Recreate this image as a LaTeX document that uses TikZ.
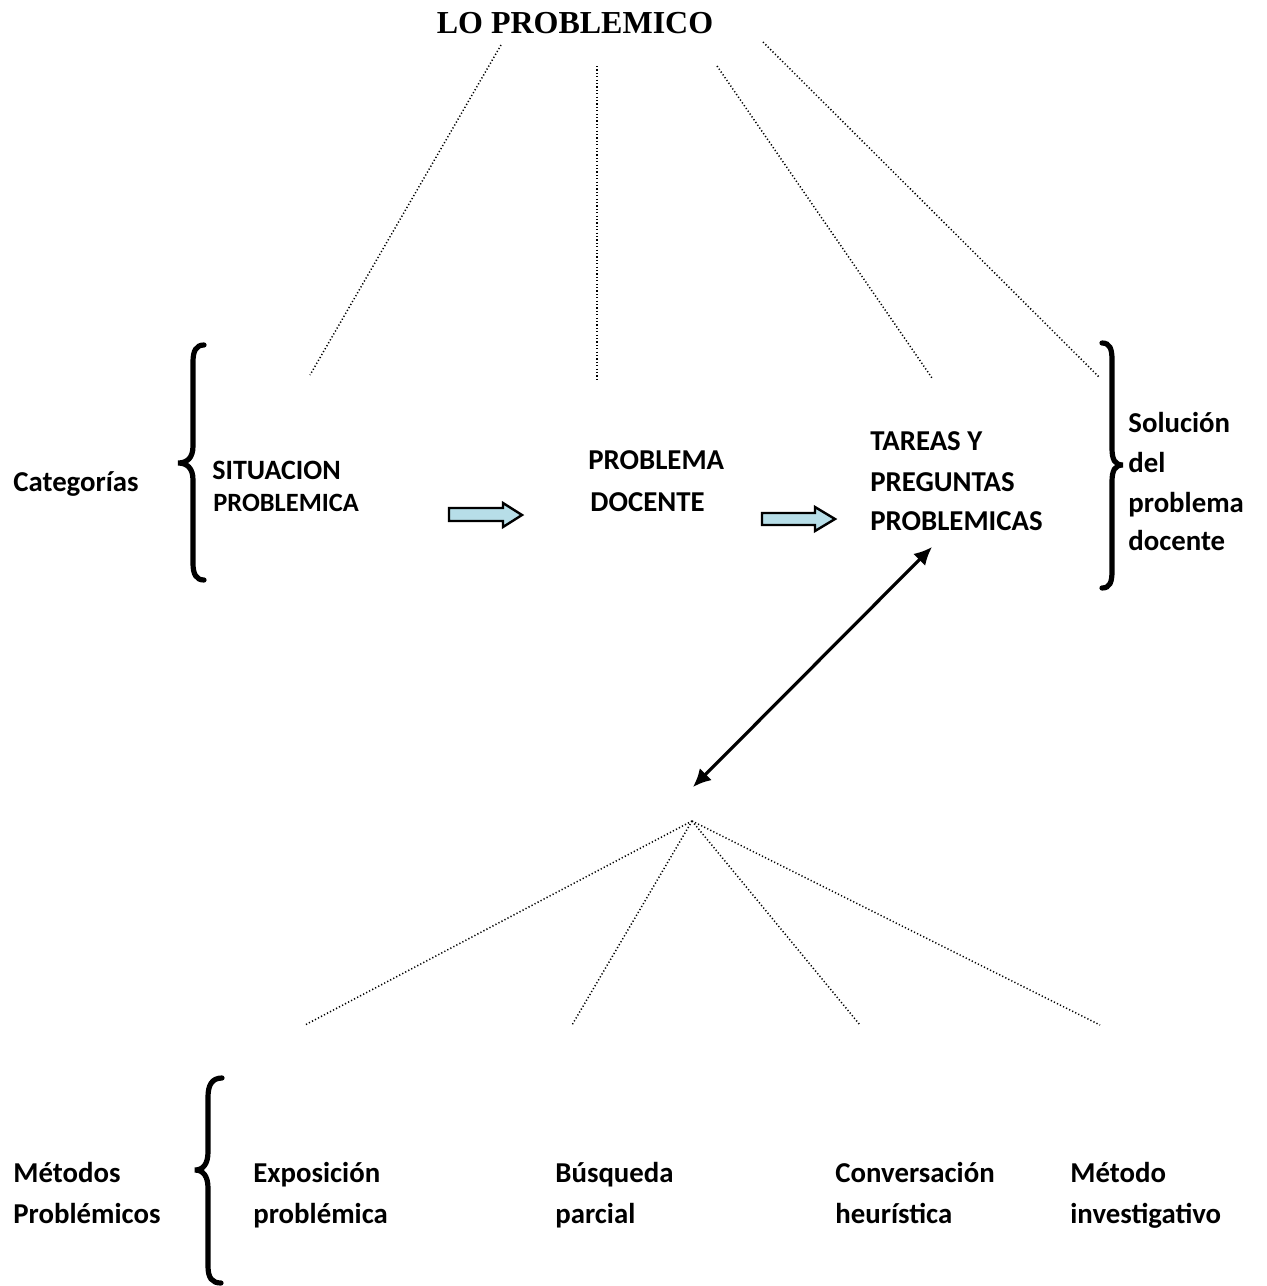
\documentclass[tikz,border=0pt]{standalone}
\usepackage{fontspec}
\setmainfont{Carlito}
\newfontfamily\titlefont{Liberation Serif}
\usepackage{tikz}
\usetikzlibrary{positioning,arrows.meta,calc}
\definecolor{arrowAqua}{HTML}{B7DEE8}

\begin{document}
\begin{tikzpicture}[
    x=0.5pt, y=-0.5pt,
    titlelbl/.style = {font=\titlefont\bfseries\fontsize{16}{19}\selectfont, anchor=base, inner sep=0pt},
    catlbl/.style   = {font=\bfseries\fontsize{14.4}{20.5}\selectfont, anchor=base west, inner sep=0pt, align=left},
    smalllbl/.style = {font=\bfseries\fontsize{13.2}{16}\selectfont, anchor=base west, inner sep=0pt, align=left},
    dotln/.style    = {line width=0.75pt, dash pattern=on 0.6pt off 1.1pt},
    blockarr/.style = {draw=black, line width=1.2pt, fill=arrowAqua, line join=miter},
    bracepath/.style= {line width=2.6pt, line cap=round},
    dblarr/.style   = {line width=1.6pt, {Latex[length=9pt,width=8.5pt]}-{Latex[length=9pt,width=8.5pt]}}
  ]
  \useasboundingbox (0,0) rectangle (1266,1286);

  %% title and its four branches
  \node[titlelbl] (title) at (575,33) {LO PROBLEMICO};
  \coordinate (t1) at (501,45);  \coordinate (b1) at (310,375);
  \coordinate (t2) at (597,66);  \coordinate (b2) at (597,380);
  \coordinate (t3) at (717,66);  \coordinate (b3) at (932,378);
  \coordinate (t4) at (763,42);  \coordinate (b4) at (1100,378);
  \foreach \i in {1,...,4}{\draw[dotln] (t\i) -- (b\i);}

  %% categories row
  \node[catlbl] (categorias) at (13,491) {Categorías};
  \draw[bracepath] (204,345) .. controls (196,345) and (193,351) .. (193,362) -- (193,446)
    .. controls (193,458) and (187,463) .. (178,463) .. controls (187,463) and (193,468) .. (193,480)
    -- (193,563) .. controls (193,574) and (196,580) .. (204,580);
  \node[smalllbl, font=\bfseries\fontsize{14}{16}\selectfont] (situacion) at (212,479) {SITUACION};
  \node[smalllbl] (situacion2) at (213,511) {PROBLEMICA};
  \node[catlbl] (problema) at (588,469) {PROBLEMA};
  \node[catlbl] (problema2) at (590,511) {DOCENTE};
  \node[catlbl] (tareas) at (870,450) {TAREAS Y};
  \node[catlbl] (tareas2) at (870,491) {PREGUNTAS};
  \node[catlbl] (tareas3) at (870,530) {PROBLEMICAS};

  %% block arrows between the categories
  \draw[blockarr] (449,508) -- (503,508) -- (503,503) -- (522,515) -- (503,527) -- (503,521) -- (449,521) -- cycle;
  \draw[blockarr] (762,513) -- (815,513) -- (815,507) -- (835,519) -- (815,531) -- (815,525) -- (762,525) -- cycle;

  %% right brace: solution of the problem
  \draw[bracepath] (1102,343) .. controls (1110,343) and (1112,349) .. (1112,360) -- (1112,448)
    .. controls (1112,460) and (1115,465) .. (1123,465) .. controls (1115,465) and (1112,470) .. (1112,482)
    -- (1112,571) .. controls (1112,582) and (1110,588) .. (1102,588);
  \node[catlbl] (solucion) at (1128,432) {Solución};
  \node[catlbl] (solucion2) at (1128,472) {del};
  \node[catlbl] (solucion3) at (1128,512) {problema};
  \node[catlbl] (solucion4) at (1128,550) {docente};

  %% double arrow down to the methods
  \coordinate (up) at (932,547);
  \coordinate (down) at (693,787);
  \draw[dblarr] (down) -- (up);

  %% methods fan
  \coordinate (apex) at (692,821);
  \foreach \n/\x in {m1/305, m2/572, m3/860, m4/1100}{
    \coordinate (\n) at (\x,1025);
    \draw[dotln] (apex) -- (\n);
  }

  \node[catlbl] (metodos) at (13,1182) {Métodos};
  \node[catlbl] (metodos2) at (13,1223) {Problémicos};
  \draw[bracepath] (222,1078) .. controls (212,1078) and (208,1085) .. (208,1097) -- (208,1152)
    .. controls (208,1164) and (203,1170) .. (195,1170) .. controls (203,1170) and (208,1176) .. (208,1188)
    -- (208,1266) .. controls (208,1278) and (212,1283) .. (221,1283);
  \node[catlbl] (exposicion) at (253,1182) {Exposición};
  \node[catlbl] (exposicion2) at (253,1223) {problémica};
  \node[catlbl] (busqueda) at (555,1182) {Búsqueda};
  \node[catlbl] (busqueda2) at (555,1223) {parcial};
  \node[catlbl] (conversacion) at (835,1182) {Conversación};
  \node[catlbl] (conversacion2) at (835,1223) {heurística};
  \node[catlbl] (metodo) at (1070,1182) {Método};
  \node[catlbl] (metodo2) at (1070,1223) {investigativo};
\end{tikzpicture}
\end{document}
